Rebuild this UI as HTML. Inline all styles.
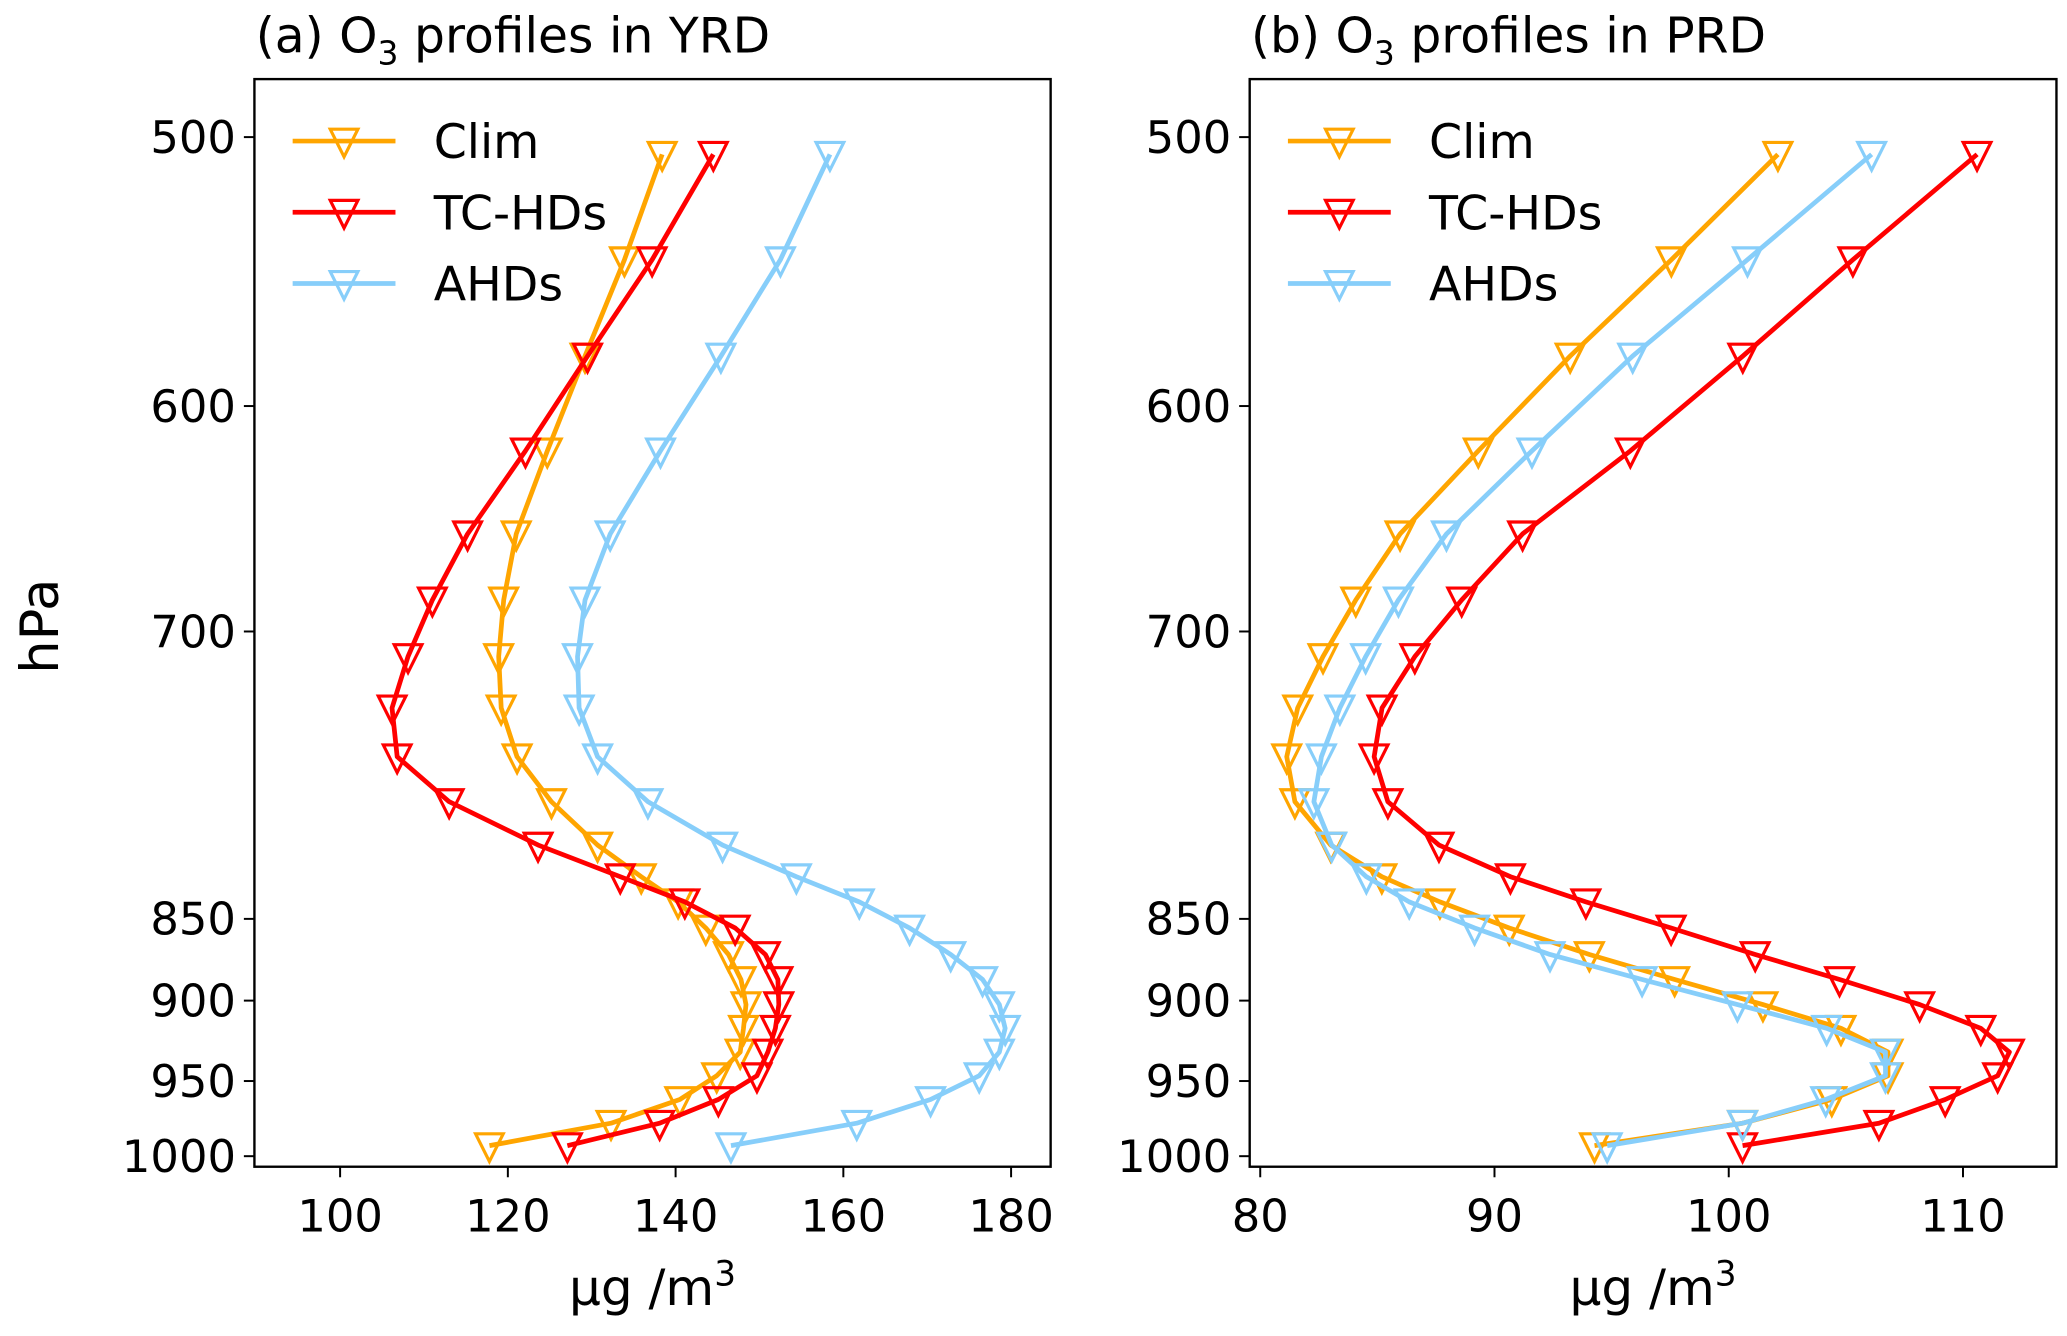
<!DOCTYPE html>
<html><head><meta charset="utf-8"><style>
html,body{margin:0;padding:0;background:#fff}
svg{display:block}
text{font-family:"DejaVu Sans","Liberation Sans",sans-serif;fill:#000}
</style></head><body>
<svg id="fig" width="2067" height="1336" viewBox="0 0 1568 1013.4" preserveAspectRatio="none" xmlns="http://www.w3.org/2000/svg"></svg>
<script>
const levels=[506.4,545.6,581.4,619.9,656.7,686,713.1,739.9,765.4,788.8,811.5,828,841.1,855.6,871.8,887.1,902.5,917.2,932,946.7,962.3,978.1,993];
const yTicks=[500,600,700,850,900,950,1000];
const yTickPx=[104,308,479,697,759,820,877];
const seriesNames=["Clim","TC-HDs","AHDs"];
const seriesColors=["#ffa500","#ff0000","#87cefa"];
const yrdClim=[138.4,133.9,129.2,124.7,121.0,119.5,118.9,119.2,121.1,125.2,130.7,135.9,140.3,143.6,146.3,147.8,148.4,148.1,147.7,144.9,140.5,132.3,117.8];
const yrdTC=[144.5,137.2,129.5,122.1,115.2,111.0,108.1,106.2,106.8,113.0,123.6,133.4,141.1,147.1,150.7,152.2,152.3,151.9,151.0,149.7,145.1,138.1,127.1];
const yrdAHD=[158.4,152.5,145.4,138.2,132.2,129.2,128.3,128.5,130.7,136.7,145.6,154.4,161.9,167.9,172.8,176.6,178.6,179.3,178.6,176.2,170.4,161.6,146.6];
const prdClim=[102.1,97.55,93.23,89.31,85.97,84.08,82.68,81.6,81.13,81.48,83.01,85.19,87.67,90.63,94.05,97.69,101.46,104.79,106.8,106.8,104.4,100.59,94.27];
const prdTC=[110.6,105.3,100.6,95.8,91.2,88.6,86.6,85.2,84.86,85.45,87.63,90.68,93.9,97.54,101.13,104.73,108.15,110.76,111.98,111.48,109.24,106.41,100.59];
const prdAHD=[106.1,100.8,95.9,91.6,87.95,85.9,84.5,83.4,82.61,82.29,83.05,84.53,86.36,89.15,92.37,96.3,100.37,104.18,106.69,106.69,104.14,100.59,94.81];
const yrdXTicks=[100,120,140,160,180];
const prdXTicks=[80,90,100,110];

const NS="http://www.w3.org/2000/svg";
const svg=document.getElementById('fig');
function mk(tag,attrs,parent){const e=document.createElementNS(NS,tag);for(const k in attrs)e.setAttribute(k,attrs[k]);(parent||svg).appendChild(e);return e;}
function yScale(p){
  for(let i=0;i<yTicks.length-1;i++){
    if(p<=yTicks[i+1]||i===yTicks.length-2){
      const t=(p-yTicks[i])/(yTicks[i+1]-yTicks[i]);
      return yTickPx[i]+t*(yTickPx[i+1]-yTickPx[i]);
    }
  }
}
function panel(cfg){
  const g=mk('g',{});
  
  
  const xS=v=>cfg.px0+(v-cfg.v0)*cfg.pxPer;
  cfg.series.forEach((vals,si)=>{
    const sg=mk('g',{},g);
    
    
    const pts=vals.map((v,i)=>xS(v).toFixed(1)+','+yScale(levels[i]).toFixed(1)).join(' ');
    const pl=mk('polyline',{points:pts,fill:'none',stroke:seriesColors[si],'stroke-width':3.6,'stroke-linejoin':'round'},sg);
    
    
    vals.forEach((v,i)=>{
      const x=xS(v),y=yScale(levels[i]);
      const m=mk('path',{d:`M${x-10.5},${y-9} L${x+10.5},${y-9} L${x},${y+12} Z`,fill:'none',stroke:seriesColors[si],'stroke-width':2.4},sg);
      
      
    });
  });
  const fr=mk('rect',{x:cfg.x0,y:60,width:cfg.x1-cfg.x0,height:825,fill:'none',stroke:'#000','stroke-width':1.8},g);
  
  
  yTicks.forEach(p=>{
    const y=yScale(p);
    mk('line',{x1:cfg.x0,x2:cfg.x0-8,y1:y,y2:y,stroke:'#000','stroke-width':1.5},g);
    const t=mk('text',{x:cfg.x0-14,y:y+12,'font-size':34,'text-anchor':'end'},g);
    t.textContent=p;
    
    
  });
  cfg.xticks.forEach(v=>{
    const x=xS(v);
    mk('line',{x1:x,x2:x,y1:885,y2:893,stroke:'#000','stroke-width':1.5},g);
    const t=mk('text',{x:x,y:934,'font-size':34,'text-anchor':'middle'},g);
    t.textContent=v;
    
    
  });
  const xl=mk('text',{x:(cfg.x0+cfg.x1)/2,y:990,'font-size':38,'text-anchor':'middle'},g);
  xl.innerHTML='μg /m<tspan dy="-15" font-size="26">3</tspan>';
  
  
  const ti=mk('text',{x:cfg.x0+1,y:40,'font-size':37},g);
  ti.innerHTML=cfg.title[0]+'O<tspan dy="9" font-size="25">3</tspan><tspan dy="-9"> '+cfg.title[1]+'</tspan>';
  
  
  seriesNames.forEach((n,i)=>{
    const y=107+i*54;
    const lg=mk('g',{},g);
    
    
    const lx=cfg.x0+29;
    mk('line',{x1:lx,x2:lx+78,y1:y,y2:y,stroke:seriesColors[i],'stroke-width':3.6},lg);
    const mx=lx+39;
    mk('path',{d:`M${mx-10.5},${y-9} L${mx+10.5},${y-9} L${mx},${y+12} Z`,fill:'none',stroke:seriesColors[i],'stroke-width':2.4},lg);
    const t=mk('text',{x:cfg.x0+136,y:y+13,'font-size':36},lg);
    t.textContent=n;
  });
}
panel({name:'panel-yrd',x0:193,x1:797,px0:258,v0:100,pxPer:6.3625,xticks:yrdXTicks,series:[yrdClim,yrdTC,yrdAHD],title:['(a) ','profiles in YRD']});
panel({name:'panel-prd',x0:948,x1:1560,px0:956,v0:80,pxPer:17.77,xticks:prdXTicks,series:[prdClim,prdTC,prdAHD],title:['(b) ','profiles in PRD']});
const yl=mk('text',{x:0,y:0,'font-size':40,'text-anchor':'middle',transform:'translate(44,475) rotate(-90)'});
yl.textContent='hPa';


</script>
</body></html>
